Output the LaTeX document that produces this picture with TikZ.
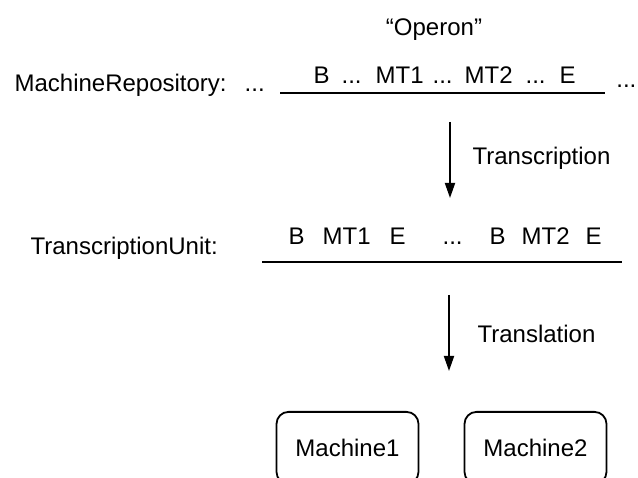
\documentclass[tikz,border=0pt]{standalone}
\usepackage{fontspec}
\setmainfont{Liberation Sans}
\usetikzlibrary{positioning, arrows.meta}

\begin{document}
\begin{tikzpicture}[x=1pt, y=-1pt, line width=1.2pt,
    font=\fontsize{24}{28}\selectfont,
    seqline/.style={line width=2.4pt},
    plain/.style={anchor=west, inner sep=0pt},
    procarrow/.style={-{Triangle[length=15pt, width=10pt]}, line width=1.8pt},
    machinebox/.style={draw, rounded corners=12pt, line width=1.8pt,
                       minimum width=142pt, minimum height=72pt, anchor=north}]
    \useasboundingbox (0,0) rectangle (638,478);
    \clip (0,0) rectangle (638,478);
    % repository strand
    \node (operon) at (434,30) {``Operon''};
    \node[plain] (repolabel) at (14,85) {MachineRepository:\hspace{18pt}...};
    \node[plain] (repogenes) at (313,75) {B\hspace{12pt}...\hspace{14pt}MT1\hspace{9pt}...\hspace{12pt}MT2\hspace{13pt}...\hspace{14pt}E};
    \coordinate (repostart) at (280,93);
    \coordinate (repoend) at (605,93);
    \draw[seqline] (repostart) -- (repoend);
    \node[anchor=east, inner sep=0pt] (repodots) at (637,86) {...};
    % transcription
    \coordinate (transcrtop) at (450,122);
    \coordinate (transcrtip) at (450,198);
    \draw[procarrow] (transcrtop) -- (transcrtip);
    \node[plain] (transcrlabel) at (472,158) {Transcription};
    % transcription units
    \node[plain] (unitlabel) at (30,248) {TranscriptionUnit:};
    \node[plain] (unitgenes) at (288,236) {B\hspace{18pt}MT1\hspace{19pt}E\hspace{37pt}...\hspace{27pt}B\hspace{16pt}MT2\hspace{16pt}E};
    \coordinate (unitstart) at (262,262);
    \coordinate (unitend) at (622,262);
    \draw[seqline] (unitstart) -- (unitend);
    % translation
    \coordinate (transltop) at (449,295);
    \coordinate (transltip) at (449,371);
    \draw[procarrow] (transltop) -- (transltip);
    \node[plain] (transllabel) at (477,334) {Translation};
    % machines
    \node[machinebox] (machine1) at (347.5,411) {Machine1};
    \node[machinebox] (machine2) at (535.5,411) {Machine2};
\end{tikzpicture}
\end{document}
